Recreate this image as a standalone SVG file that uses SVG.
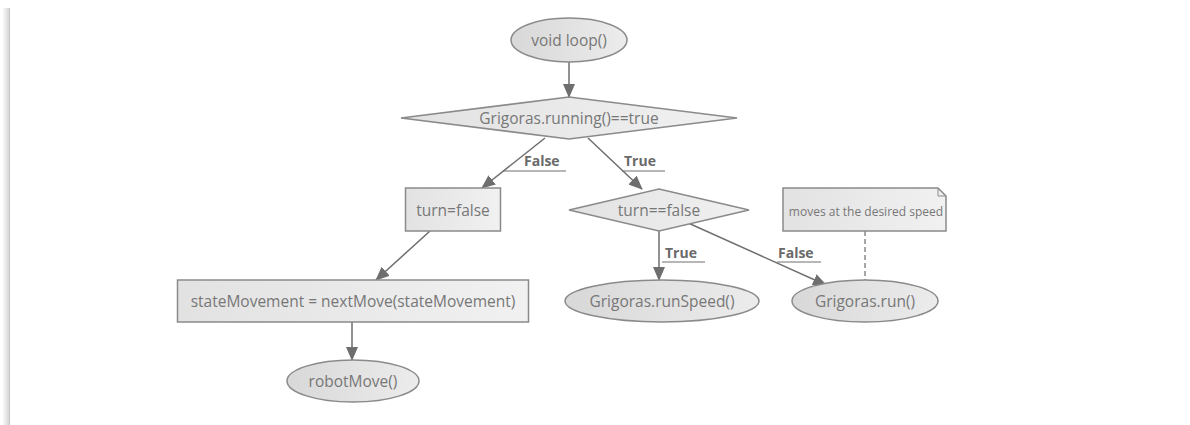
<svg xmlns="http://www.w3.org/2000/svg" width="1190" height="425" viewBox="0 0 1190 425">
<defs>
<linearGradient id="g" x1="0" y1="0" x2="1" y2="0">
<stop offset="0" stop-color="#e2e2e2"/>
<stop offset="1" stop-color="#f1f1f1"/>
</linearGradient>
<linearGradient id="ge" x1="0" y1="0" x2="1" y2="0">
<stop offset="0" stop-color="#d8d8d8"/>
<stop offset="1" stop-color="#ececec"/>
</linearGradient>
<linearGradient id="sh" x1="0" y1="0" x2="1" y2="0">
<stop offset="0" stop-color="#ffffff"/>
<stop offset="1" stop-color="#d0d0d0"/>
</linearGradient>
<marker id="arr" markerWidth="14" markerHeight="12" refX="13" refY="6" orient="auto" markerUnits="userSpaceOnUse">
<path d="M0,0 L14,6 L0,12 z" fill="#6e6e6e"/>
</marker>
<style>
.n{fill:url(#g);stroke:#8a8a8a;stroke-width:1.5}
.e{fill:url(#ge);stroke:#8a8a8a;stroke-width:1.5}
.t{font-family:"Open Sans","DejaVu Sans",sans-serif;font-size:15.5px;fill:#777777;text-anchor:middle;dominant-baseline:central}
.l{font-family:"Open Sans","DejaVu Sans",sans-serif;font-size:14px;font-weight:bold;fill:#6a6a6a}
.c{stroke:#6e6e6e;stroke-width:1.5;fill:none}
.u{stroke:#6e6e6e;stroke-width:1}
</style>
</defs>
<rect x="0" y="0" width="1190" height="425" fill="#ffffff"/>
<rect x="2" y="8" width="8" height="417" fill="url(#sh)"/>
<line x1="9.5" y1="8" x2="9.5" y2="425" stroke="#c8c8c8" stroke-width="1"/>

<g id="connectors">
<line class="c" x1="569" y1="62" x2="569" y2="97" marker-end="url(#arr)"/>
<line class="c" x1="545" y1="138" x2="482" y2="188" marker-end="url(#arr)"/>
<line class="c" x1="588" y1="138" x2="642" y2="189" marker-end="url(#arr)"/>
<line class="c" x1="430" y1="231" x2="376" y2="280" marker-end="url(#arr)"/>
<line class="c" x1="352" y1="322" x2="352" y2="360" marker-end="url(#arr)"/>
<line class="c" x1="659" y1="231" x2="659" y2="280" marker-end="url(#arr)"/>
<line class="c" x1="686" y1="222" x2="826" y2="285" marker-end="url(#arr)"/>
<line x1="865" y1="231" x2="865" y2="280" stroke="#8a8a8a" stroke-width="1.5" stroke-dasharray="5,3"/>
<text class="l" x="524" y="166">False</text>
<line class="u" x1="503" y1="171" x2="566" y2="171"/>
<text class="l" x="624" y="166">True</text>
<line class="u" x1="622" y1="171" x2="665" y2="171"/>
<text class="l" x="665" y="258">True</text>
<line class="u" x1="662" y1="262" x2="705" y2="262"/>
<text class="l" x="778" y="258">False</text>
<line class="u" x1="777" y1="262" x2="821" y2="262"/>
</g>

<g id="start">
<ellipse class="e" cx="569" cy="40" rx="58" ry="22"/>
<text class="t" x="569" y="40">void loop()</text>
</g>
<g id="cond1">
<polygon class="n" points="569,97 737,118 569,139 401,118"/>
<text class="t" x="569" y="118">Grigoras.running()==true</text>
</g>
<g id="turnfalse">
<rect class="n" x="405.5" y="188" width="95" height="43"/>
<text class="t" x="453" y="209.5">turn=false</text>
</g>
<g id="cond2">
<polygon class="n" points="659,189 749,210 659,231 569,210"/>
<text class="t" x="659" y="210">turn==false</text>
</g>
<g id="statemove">
<rect class="n" x="177.5" y="280" width="351" height="42"/>
<text class="t" x="353" y="301">stateMovement = nextMove(stateMovement)</text>
</g>
<g id="robotmove">
<ellipse class="e" cx="353" cy="381" rx="66" ry="21"/>
<text class="t" x="353" y="381">robotMove()</text>
</g>
<g id="runspeed">
<ellipse class="e" cx="662" cy="301" rx="97" ry="21"/>
<text class="t" x="662" y="301">Grigoras.runSpeed()</text>
</g>
<g id="run">
<ellipse class="e" cx="865" cy="301" rx="73" ry="21"/>
<text class="t" x="865" y="301">Grigoras.run()</text>
</g>
<g id="note">
<path class="n" d="M783,188 L938,188 L946,196 L946,231 L783,231 Z"/>
<path d="M938,188 L938,196 L946,196" fill="none" stroke="#8a8a8a" stroke-width="1"/>
<text class="t" x="866" y="211" style="font-size:12px">moves at the desired speed</text>
</g>
</svg>
